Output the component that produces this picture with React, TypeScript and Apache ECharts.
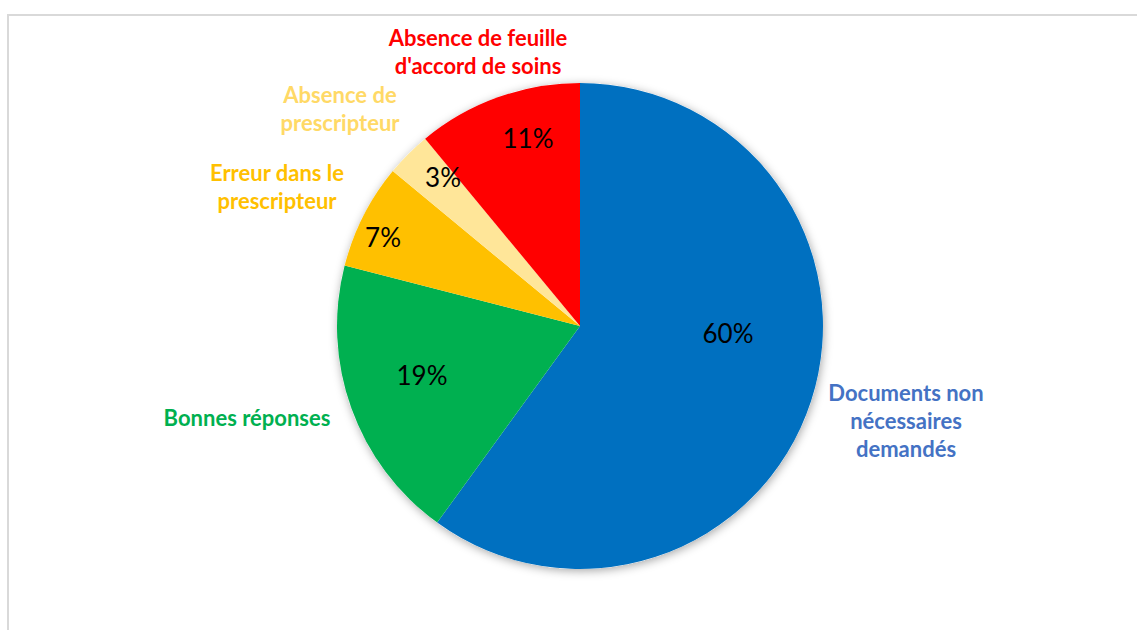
import React, { useEffect, useRef } from "react";
import * as echarts from "echarts";

const categories = [
  "Documents non\nnécessaires\ndemandés",
  "Bonnes réponses",
  "Erreur dans le\nprescripteur",
  "Absence de\nprescripteur",
  "Absence de feuille\nd'accord de soins",
];
const values = [60, 19, 7, 3, 11];
const sliceColors = ["#0070C0", "#00B050", "#FFC000", "#FFE699", "#FF0000"];
const nameColors = ["#4472C4", "#00B050", "#FFC000", "#FFD966", "#FF0000"];

// label placement (layout only)
const namePos = [
  [906, 420],
  [247, 417],
  [277, 186],
  [340, 108],
  [478, 51],
];
const pctPos = [
  [728, 333],
  [422, 375],
  [383, 237],
  [443, 177],
  [528, 138],
];

const CENTER: [number, number] = [580, 326];
const RADIUS = 243;
const FONT = "Lato, 'Open Sans', sans-serif";

export default function App() {
  const ref = useRef<HTMLDivElement>(null);
  useEffect(() => {
    if (!ref.current) return;
    const chart = echarts.init(ref.current, null, { renderer: "svg" });
    const total = values.reduce((a, b) => a + b, 0);
    chart.setOption({
      animation: false,
      backgroundColor: "#ffffff",
      graphic: [
        {
          type: "rect",
          shape: { x: 8, y: 15, width: 1160, height: 660 },
          style: { fill: "none", stroke: "#d9d9d9", lineWidth: 2 },
          silent: true,
          z: -10,
        },
      ],
      series: [
        {
          type: "pie",
          silent: true,
          center: CENTER,
          radius: RADIUS,
          label: { show: false },
          labelLine: { show: false },
          itemStyle: {
            color: "#ffffff",
            shadowBlur: 10,
            shadowColor: "rgba(0,0,0,0.35)",
            shadowOffsetX: 1,
            shadowOffsetY: 2,
          },
          data: [{ value: 1, name: "shadow" }],
          z: 1,
        },
        {
          type: "pie",
          center: CENTER,
          radius: RADIUS,
          startAngle: 90,
          clockwise: true,
          silent: true,
          itemStyle: { borderWidth: 0 },
          label: {
            show: true,
            position: "inside",
            formatter: (p: any) => Math.round((p.value / total) * 100) + "%",
            color: "#000000",
            fontSize: 26,
            fontFamily: FONT,
            fontWeight: "normal",
          },
          labelLine: { show: false },
          labelLayout: (p: any) => ({
            x: pctPos[p.dataIndex][0],
            y: pctPos[p.dataIndex][1],
            align: "center",
            verticalAlign: "middle",
          }),
          data: categories.map((c, i) => ({
            name: c,
            value: values[i],
            itemStyle: { color: sliceColors[i] },
          })),
          z: 2,
        },
        {
          type: "pie",
          center: CENTER,
          radius: RADIUS,
          startAngle: 90,
          clockwise: true,
          silent: true,
          itemStyle: { color: "rgba(0,0,0,0)" },
          label: {
            show: true,
            position: "outside",
            formatter: "{b}",
            fontSize: 22,
            lineHeight: 28,
            fontFamily: FONT,
            fontWeight: "bold",
            align: "center",
          },
          labelLine: { show: false },
          labelLayout: (p: any) => ({
            x: namePos[p.dataIndex][0],
            y: namePos[p.dataIndex][1],
            align: "center",
            verticalAlign: "middle",
          }),
          data: categories.map((c, i) => ({
            name: c,
            value: values[i],
            label: { color: nameColors[i] },
          })),
          z: 3,
        },
      ],
    });
    return () => chart.dispose();
  }, []);
  return (
    <div
      ref={ref}
      style={{ position: "fixed", left: 0, top: 0, width: 1137, height: 630 }}
    />
  );
}
